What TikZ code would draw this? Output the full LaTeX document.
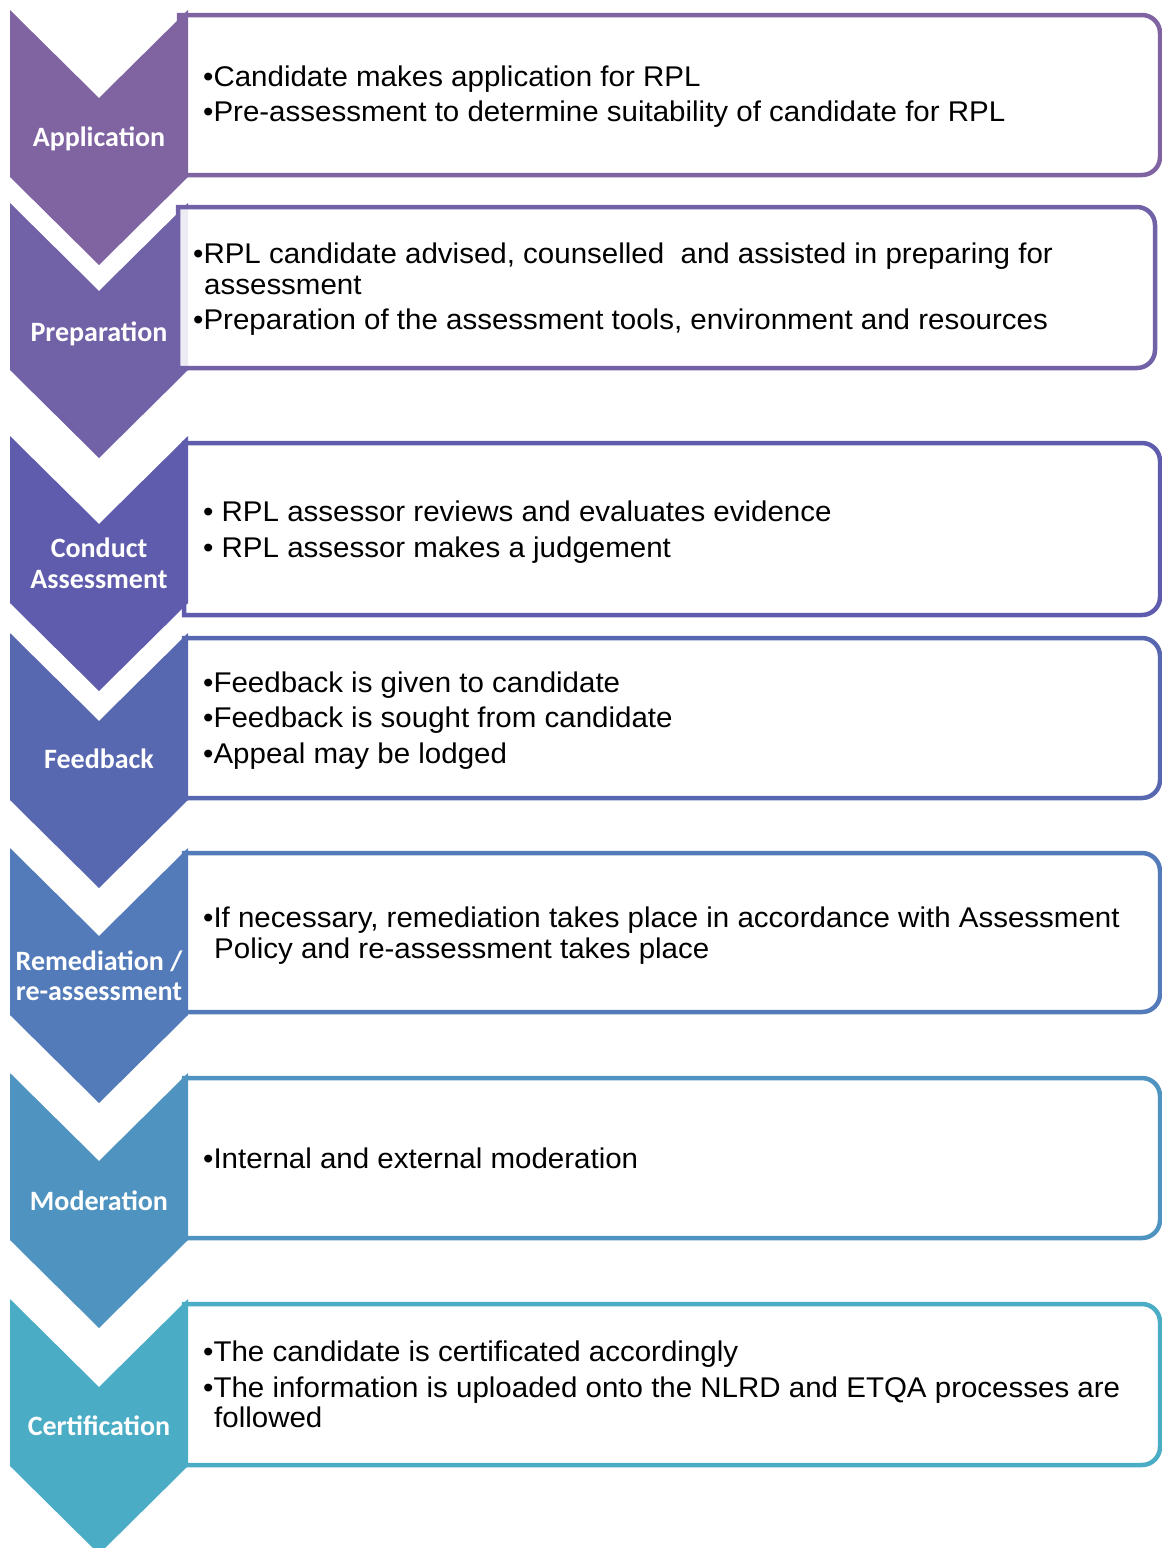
\documentclass[tikz,border=0pt]{standalone}
\usepackage{fontspec}
\setmainfont{Liberation Sans}[FakeStretch=1.035]
\newfontfamily\chevfont{Carlito}

% stage colours, purple through blue to teal
\definecolor{stA}{HTML}{8064A2}
\definecolor{stB}{HTML}{7161A7}
\definecolor{stC}{HTML}{5F5CAD}
\definecolor{stD}{HTML}{5868B0}
\definecolor{stE}{HTML}{537BBA}
\definecolor{stF}{HTML}{4F93C0}
\definecolor{stG}{HTML}{4BACC6}

% downward chevron whose top edge sits at y = -#1
\newcommand\stagechevron[2]{%
  \fill[#2] (10,-#1) -- (99,-#1-88) -- (188,-#1) -- (188,-#1-167)
    -- (99,-#1-255) -- (10,-#1-167) -- cycle;}

% text frame: square on the left, rounded on the right
% #1 top, #2 bottom, #3 right, #4 colour, #5 left, #6 extra options
\newcommand\stageframe[6]{%
  \draw[line width=4.5pt, draw=#4, fill=white, #6] (#5,-#1) -- (#3-18,-#1)
    arc[start angle=90, end angle=0, radius=18] -- (#3,-#2+18)
    arc[start angle=0, end angle=-90, radius=18] -- (#5,-#2) -- cycle;}

\tikzset{
  bodytext/.style={anchor=base west, inner sep=0pt, text=black,
    font=\fontsize{28.5}{30}\selectfont},
  stagelabel/.style={anchor=base, inner sep=0pt, text=white,
    font=\chevfont\bfseries\fontsize{28}{31}\selectfont},
}

\begin{document}
\begin{tikzpicture}[x=1pt,y=1pt]
\useasboundingbox (0,0) rectangle (1162,-1548);
\clip (0,0) rectangle (1162,-1548);

% frames that sit behind their chevrons
\stageframe{15}{175}{1160}{stA}{179}{}
\stageframe{443}{615}{1160}{stC}{184}{}
\stageframe{638}{798}{1160}{stD}{184}{}
\stageframe{853}{1012}{1160}{stE}{184}{}
\stageframe{1078}{1238}{1160}{stF}{184}{}
\stageframe{1304}{1465}{1160}{stG}{184}{}

% chevrons
\stagechevron{10}{stA}
\stagechevron{203}{stB}
\stagechevron{436}{stC}
\stagechevron{633}{stD}
\stagechevron{848}{stE}
\stagechevron{1073}{stF}
\stagechevron{1299}{stG}

% the preparation frame lies over its chevron
\stageframe{207}{368}{1155}{stB}{178}{fill opacity=0.88}

% stage names
\node[stagelabel] (appl) at (99,-146) {Application};
\node[stagelabel] (prep) at (99,-341) {Preparation};
\node[stagelabel] (condA) at (99,-557) {Conduct};
\node[stagelabel] (condB) at (99,-588) {Assessment};
\node[stagelabel] (feed) at (99,-768) {Feedback};
\node[stagelabel] (remA) at (99,-970) {Remediation /};
\node[stagelabel] (remB) at (99,-1000) {re-assessment};
\node[stagelabel] (mod) at (99,-1210) {Moderation};
\node[stagelabel] (cert) at (99,-1435) {Certification};

% stage details
\node[bodytext] (a1) at (203,-86) {•Candidate makes application for RPL};
\node[bodytext] (a2) at (203,-121) {•Pre-assessment to determine suitability of candidate for RPL};

\node[bodytext] (p1) at (193,-263) {•RPL candidate advised, counselled\ \ and assisted in preparing for};
\node[bodytext] (p2) at (204,-294) {assessment};
\node[bodytext] (p3) at (193,-329) {•Preparation of the assessment tools, environment and resources};

\node[bodytext] (c1) at (203,-521) {• RPL assessor reviews and evaluates evidence};
\node[bodytext] (c2) at (203,-557) {• RPL assessor makes a judgement};

\node[bodytext] (f1) at (203,-692) {•Feedback is given to candidate};
\node[bodytext] (f2) at (203,-727) {•Feedback is sought from candidate};
\node[bodytext] (f3) at (203,-763) {•Appeal may be lodged};

\node[bodytext] (r1) at (203,-927) {•If necessary, remediation takes place in accordance with Assessment};
\node[bodytext] (r2) at (214,-958) {Policy and re-assessment takes place};

\node[bodytext] (m1) at (203,-1168) {•Internal and external moderation};

\node[bodytext] (e1) at (203,-1361) {•The candidate is certificated accordingly};
\node[bodytext] (e2) at (203,-1397) {•The information is uploaded onto the NLRD and ETQA processes are};
\node[bodytext] (e3) at (214,-1427) {followed};
\end{tikzpicture}
\end{document}
